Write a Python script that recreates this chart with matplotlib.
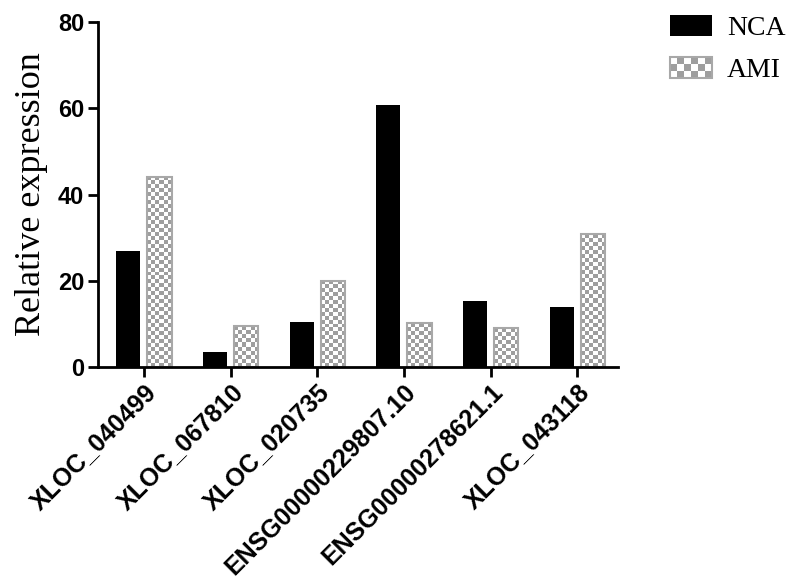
import numpy as np
import matplotlib
matplotlib.use("Agg")
import matplotlib.pyplot as plt
from matplotlib.colors import ListedColormap
from matplotlib.patches import Rectangle, Patch
from matplotlib.legend_handler import HandlerBase

# Data
genes = ["XLOC_040499", "XLOC_067810", "XLOC_020735",
         "ENSG00000229807.10", "ENSG00000278621.1", "XLOC_043118"]
nca = [27.0, 3.4, 10.4, 60.8, 15.4, 13.9]
ami = [44.1, 9.5, 20.0, 10.2, 9.0, 30.8]
yticks = [0, 20, 40, 60, 80]

GRAY = "#9e9e9e"
EDGE = "#a8a8a8"
CELL = 4  # checker cell size in px


def checker(nx, ny):
    return (np.add.outer(np.arange(ny), np.arange(nx)) % 2).astype(float)


# legend handle with the checker fill
class CheckerHandler(HandlerBase):
    def create_artists(self, legend, orig_handle, xdescent, ydescent,
                       width, height, fontsize, trans):
        arts = []
        nx, ny = 6, 3
        cw, ch = width / nx, height / ny
        for i in range(nx):
            for j in range(ny):
                if (i + j) % 2:
                    arts.append(Rectangle((-xdescent + i * cw, -ydescent + j * ch), cw, ch,
                                          facecolor=GRAY, edgecolor="none", transform=trans))
        arts.append(Rectangle((-xdescent, -ydescent), width, height, facecolor="none",
                              edgecolor=EDGE, linewidth=1.5, transform=trans))
        return arts


fig = plt.figure(figsize=(8, 5.79), dpi=100)
ax = fig.add_axes([0.1225, 0.366, 0.65, 0.596])

x = np.arange(len(genes))
w = 0.28
ax.bar(x - 0.18, nca, w, color="black", zorder=2)
bars = ax.bar(x + 0.18, ami, w, facecolor="none", edgecolor=EDGE, linewidth=1.5, zorder=2)
ax.set_xlim(-0.53, 5.47)
ax.set_ylim(0, 80)

# checker fill for the AMI bars, clipped to each bar
cmap = ListedColormap(["white", GRAY])
for b in bars:
    x0, y0 = b.get_x(), b.get_y()
    x1, y1 = x0 + b.get_width(), y0 + b.get_height()
    (px0, py0), (px1, py1) = ax.transData.transform([(x0, y0), (x1, y1)])
    nx = max(1, round((px1 - px0) / CELL))
    ny = max(1, round((py1 - py0) / CELL))
    im = ax.imshow(checker(nx, ny), cmap=cmap, extent=(x0, x1, y0, y1), origin="lower",
                   aspect="auto", interpolation="nearest", zorder=1.5)
    im.set_clip_path(b)

ax.set_xlim(-0.53, 5.47)
ax.set_ylim(0, 80)

for s in ["top", "right"]:
    ax.spines[s].set_visible(False)
for s in ["left", "bottom"]:
    ax.spines[s].set_linewidth(2)

ax.set_yticks(yticks)
ax.set_yticklabels([str(t) for t in yticks], fontfamily="Liberation Sans",
                   fontweight="bold", fontsize=17)
ax.set_xticks(x)
ax.set_xticklabels(genes, fontfamily="Liberation Sans", fontweight="bold", fontsize=18,
                   rotation=45, ha="right", rotation_mode="anchor")
ax.tick_params(axis="both", direction="out", length=7, width=2, pad=3)
ax.tick_params(axis="x", pad=2)

ax.set_ylabel("Relative expression", fontfamily="Liberation Serif", fontsize=26, labelpad=7)

handles = [Patch(facecolor="black"), Patch(facecolor="white")]
fig.legend(handles, ["NCA", "AMI"], loc="upper left",
           bbox_to_anchor=(670 / 800, 1 - 15 / 579), frameon=False,
           borderpad=0, borderaxespad=0, handlelength=1.5, handleheight=0.8,
           handletextpad=0.55, labelspacing=0.55,
           prop={"family": "Liberation Serif", "size": 20},
           handler_map={handles[1]: CheckerHandler()})

fig.savefig("out.png", dpi=100)
